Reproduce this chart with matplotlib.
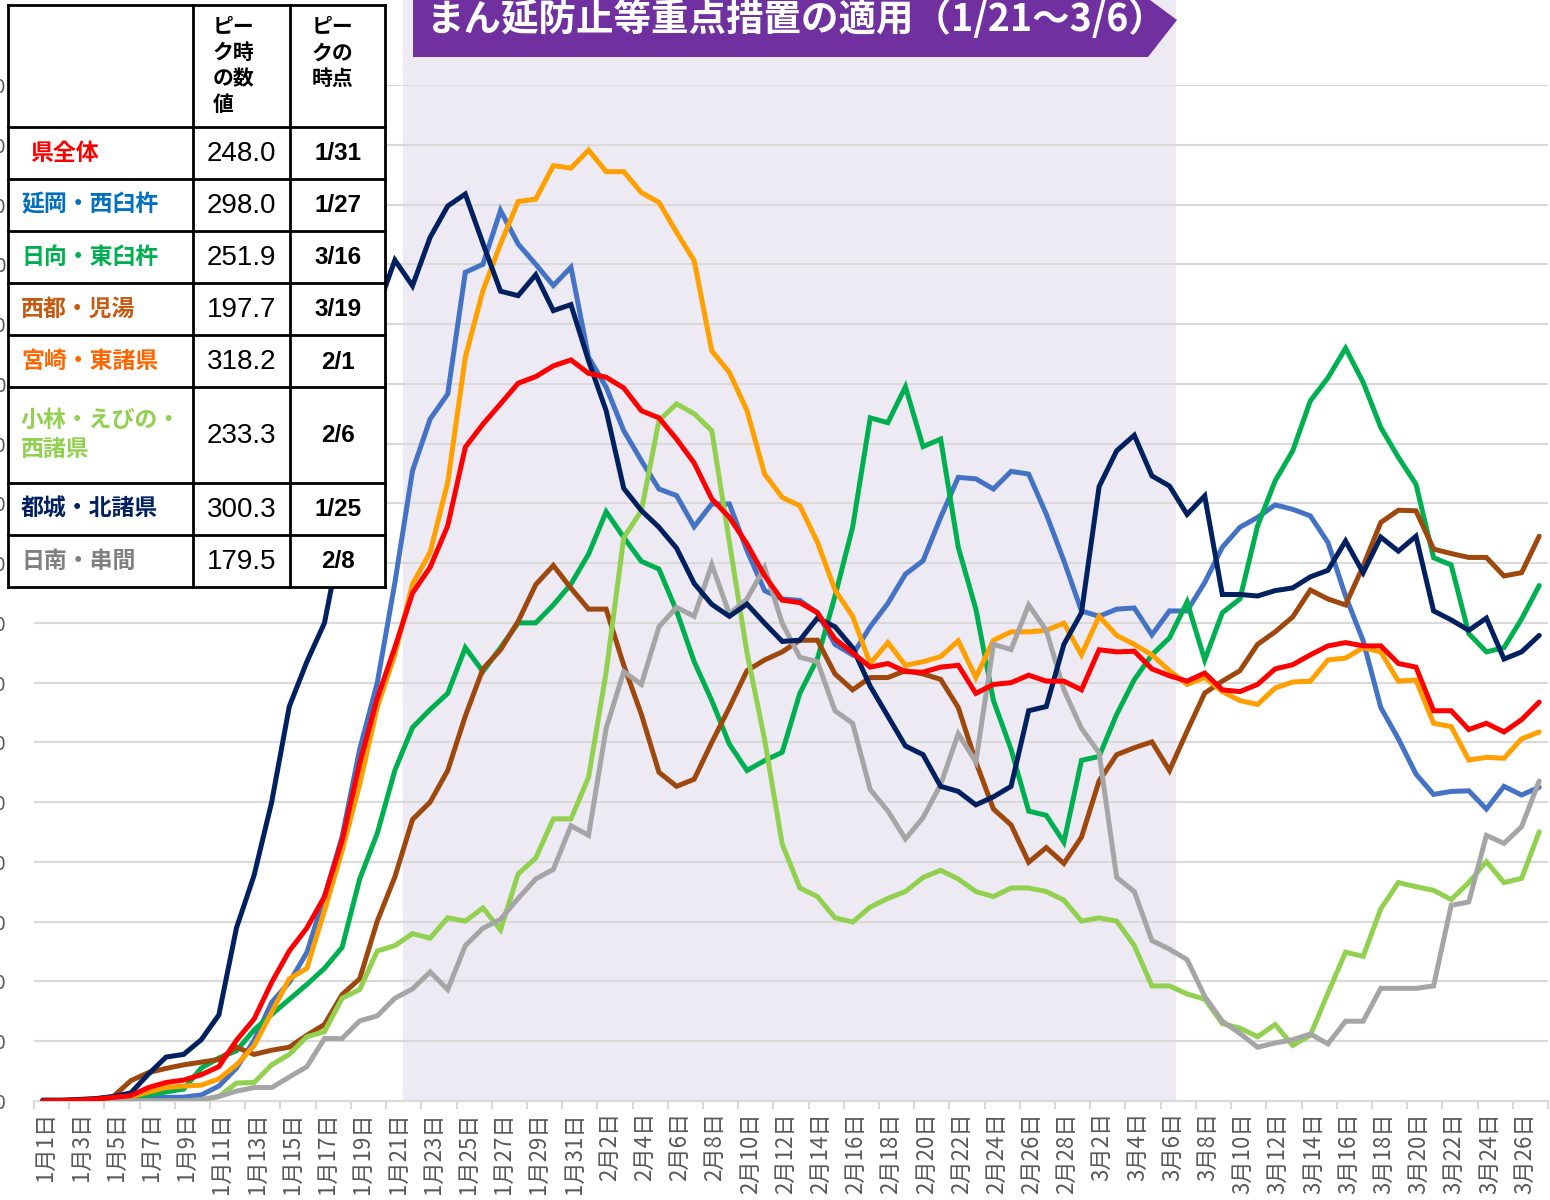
import matplotlib
matplotlib.use('Agg')
import matplotlib.pyplot as plt
from matplotlib.patches import Rectangle, Polygon
from matplotlib.lines import Line2D
from matplotlib.transforms import ScaledTranslation
import numpy as np
import pandas as pd

plt.rcParams['font.family'] = ['Noto Sans CJK JP', 'DejaVu Sans']

# ---------------- data ----------------
dates = pd.date_range('2022-01-01', '2022-03-27', freq='D')
date_labels = [f"{d.month}月{d.day}日" for d in dates]

ken_zentai = [0, 0.1, 0.3, 0.6, 1.2, 1.8, 4.5, 6.2, 7, 8.8,
              11.5, 20.3, 27.4, 39.7, 50.2, 57.9, 68.4, 87.2, 113, 134.8,
              151.8, 170, 178.6, 192.5, 218.8, 226.5, 233.3, 240.2, 242.4, 246,
              248.0, 243.5, 242.2, 238.6, 231, 228.6, 221.5, 213.5, 201.5, 195.3,
              186.4, 175.8, 167.6, 166.8, 163.4, 154.6, 150, 145.2, 146.4, 143.7,
              143.5, 145.2, 145.8, 136.4, 139.4, 140, 142.5, 140.5, 140.5, 137.6,
              151, 150.3, 150.5, 144.6, 142.3, 140.5, 143.2, 137.6, 137, 139.4,
              144.6, 146, 149.3, 152.3, 153.4, 152.3, 152.3, 146.4, 145.2, 130.6,
              130.6, 124.3, 126.4, 123.5, 127.6, 133.5]

nobeoka = [0, 0, 0.2, 0.4, 0.5, 0.8, 1, 1.2, 1.3, 2,
           5, 11, 20.3, 33, 39.7, 49.7, 68.4, 88.4, 117.7, 140,
           173.5, 210.9, 228.2, 236.6, 277.3, 280, 298.0, 286.8, 280, 272.9,
           279, 248.9, 238.9, 224.3, 214.3, 204.8, 202.6, 192.2, 199.8, 199.8,
           184.2, 170.8, 168, 167.5, 163.4, 152.8, 149.3, 158.7, 166.5, 176.3,
           180.8, 195.3, 208.7, 208.2, 204.8, 210.7, 209.8, 196.4, 180.8, 164,
           162.2, 164.6, 165, 156, 164, 164, 173.5, 185.3, 192, 195.3,
           199.5, 198, 195.8, 186.9, 169, 154, 131.7, 121.2, 109.4, 102.6,
           103.6, 103.8, 97.7, 105.3, 102.4, 105]

hyuga = [0, 0, 0.3, 0.6, 1, 1.5, 2, 3, 4, 11,
         14.4, 16.8, 23.8, 29, 34, 39, 44.4, 51.4, 74.3, 89.6,
         110.7, 125, 131, 136.4, 151.7, 143.7, 151.7, 160, 160, 166,
         173, 183, 197.2, 188.6, 180.6, 178, 164, 147, 134, 119.4,
         110.6, 113.9, 116.7, 136.4, 148, 169, 192, 228.6, 227, 239,
         219, 221.5, 185.3, 164.6, 134, 117.7, 97, 95.6, 86.6, 114,
         115.3, 129.4, 141, 149.3, 155, 167, 147.6, 163.4, 168, 192.4,
         207.5, 217.6, 234.3, 242, 251.9, 240.5, 225.4, 215.4, 206.4, 181.8,
         179.4, 156.4, 150.3, 151.7, 161.3, 172.5]

saito = [0, 0.1, 0.3, 0.6, 1.5, 6.8, 9.5, 10.9, 12.1, 13,
         13.9, 18, 15.6, 17, 18, 22, 25.6, 35.6, 40.9, 60.2,
         75, 94.2, 100, 110.6, 128.8, 144.6, 151, 160.5, 172.8, 179.2,
         171.6, 164.6, 164.6, 145.8, 129.4, 110, 105.3, 107.7, 120, 131.7,
         144, 147.6, 150.3, 154.2, 154.2, 142.9, 137.6, 141.7, 141.7, 144,
         142.9, 141.1, 131.7, 113.5, 97.7, 92.4, 79.9, 84.8, 79.5, 88.3,
         107.1, 115.9, 118.2, 120.2, 110.6, 123.8, 136.5, 140.5, 144, 152.8,
         157, 162, 171, 168, 166, 179, 193.6, 197.7, 197.5, 184.7,
         183.2, 181.9, 181.9, 175.7, 176.8, 189]

miyazaki = [0, 0.1, 0.3, 0.8, 1, 1.5, 3, 4.5, 5, 5.3,
            7.4, 12.1, 18.5, 29.7, 40.9, 44.4, 63.7, 83.7, 106, 131.8,
            149.4, 173, 183.6, 207, 248.9, 271.2, 286.8, 301, 301.8, 313,
            312.2, 318.2, 311, 311, 304, 300.7, 290.7, 281.2, 251, 243.8,
            231, 209.8, 202, 199.2, 187, 171, 162.2, 146.4, 153.4, 145.8,
            147, 148.7, 154, 141.7, 154.2, 157, 157, 157.5, 159.9, 149.3,
            162.2, 155.8, 152.8, 149.3, 144, 139.4, 141.7, 137, 134, 132.7,
            138.2, 140.2, 140.5, 147.6, 148.2, 151.7, 150.3, 140.5, 140.9, 126.4,
            125.3, 114.1, 115, 114.7, 121.2, 123.5]

kobayashi = [0, 0, 0, 0, 0, 0, 0, 0, 0, 0.3,
             1.5, 6, 6.2, 12.1, 15.6, 21.5, 23.2, 34.4, 37.3, 50.2,
             52, 56, 54.5, 61.3, 60.2, 64.6, 57.3, 76, 81.3, 94.4,
             94.4, 108.3, 143.5, 188.6, 197.5, 227.7, 233.3, 230, 224.3, 187,
             150, 121, 86, 71.3, 68.4, 61.3, 59.9, 64.9, 67.8, 70.1,
             74.8, 77.2, 74.3, 70.1, 68.4, 71.3, 71.3, 70.1, 67.2, 60.2,
             61.3, 60.2, 52, 38.5, 38.5, 35.8, 34.1, 25.9, 24.4, 21.5,
             25.6, 18.6, 22, 36.1, 49.8, 48.4, 64.3, 73.1, 71.7, 70.5,
             67.4, 73.1, 80.1, 73.1, 74.5, 90.1]

miyakonojo = [0.3, 0.3, 0.5, 0.8, 1.5, 2.7, 9, 14.7, 15.6, 20.5,
              28.8, 57.9, 75.5, 100, 132, 147, 160, 190, 232, 265,
              281.4, 272.8, 289, 299.5, 303.5, 287, 271, 269.5, 276.5, 264.5,
              266.5, 247.7, 231, 205, 197.6, 192, 185, 173.2, 166.2, 162.2,
              166.3, 159.9, 153.8, 154.2, 161.6, 158.7, 151.7, 138.8, 128.8, 118.8,
              115.9, 105.3, 103.6, 99.1, 101.8, 105.3, 130.6, 132, 152.8, 163.4,
              205.6, 217.6, 222.8, 209.2, 205.8, 196.3, 202.5, 169.5, 169.5, 169,
              170.8, 171.7, 175.4, 177.6, 187.4, 176.8, 188.7, 184, 189, 164,
              161, 157.5, 161.6, 147.9, 150.3, 155.8]

nichinan = [0, 0, 0, 0, 0, 0, 0, 0, 0, 0.5,
            1.5, 3.3, 4.5, 4.5, 8, 11.5, 20.9, 20.9, 26.8, 28.5,
            34.4, 37.5, 43.2, 37.3, 52, 57.8, 60.8, 67.8, 74.3, 77.5,
            92.1, 88.9, 124.7, 143.7, 139.4, 158.7, 165.2, 162.2, 179.5, 163,
            168, 178.5, 159.9, 148.5, 147, 130.6, 126.4, 104.2, 97.1, 87.7,
            94.8, 105.9, 122.9, 113.5, 152.8, 151.1, 166, 157.5, 137.6, 124.7,
            116.5, 74.8, 70.1, 53.7, 50.8, 47.3, 35, 26.7, 22.6, 18,
            19.4, 20.5, 22.4, 19.1, 26.7, 26.7, 37.7, 37.7, 37.7, 38.5,
            65.5, 66.6, 88.9, 86.2, 91.8, 107.1]

region_names = ["県全体", "延岡・西臼杵", "日向・東臼杵", "西都・児湯", "宮崎・東諸県",
                "小林・えびの・\n西諸県", "都城・北諸県", "日南・串間"]
peak_values = ["248.0", "298.0", "251.9", "197.7", "318.2", "233.3", "300.3", "179.5"]
peak_dates = ["1/31", "1/27", "3/16", "3/19", "2/1", "2/6", "1/25", "2/8"]

y_ticks = list(range(0, 341, 20))
period_start, period_end = 20.47, 64.39   # shaded period (1/21 - 3/6) on category axis
title_text = "まん延防止等重点措置の適用（1/21～3/6）"

# ---------------- styling ----------------
line_colors = {
    "nobeoka": "#4472C4", "hyuga": "#00B050", "saito": "#9E480E",
    "miyazaki": "#FFA000", "kobayashi": "#92D050", "miyakonojo": "#002060",
    "nichinan": "#A5A5A5", "ken": "#FF0000",
}
label_colors = ["#FF0000", "#0070C0", "#00B050", "#C55A11", "#FF6600",
                "#92D050", "#002060", "#808080"]

W, H = 1550, 1200
fig = plt.figure(figsize=(W / 100, H / 100), dpi=100)


def fx(px):
    return px / W


def fy(py):
    return 1 - py / H


ax = fig.add_axes([fx(34), fy(1101), fx(1548) - fx(34), fy(85) - fy(1101)])
x = np.arange(len(dates))
ax.set_xlim(-0.5, len(dates) - 0.5)
ax.set_ylim(0, 340)
ax.set_yticks(y_ticks)
ax.set_yticklabels([str(v) for v in y_ticks])
ax.yaxis.grid(True, color='#D9D9D9', lw=1.5)
ax.set_axisbelow(True)
ax.tick_params(axis='y', length=0, pad=20, labelsize=14, labelcolor='#595959')
for s in ['left', 'right', 'top']:
    ax.spines[s].set_visible(False)
ax.spines['bottom'].set_color('#D9D9D9')
ax.spines['bottom'].set_linewidth(1.5)

ax.set_xticks(x[::2])
ax.set_xticklabels(date_labels[::2], rotation=90, va='top', ha='center')
ax.tick_params(axis='x', which='major', length=0, pad=8, labelsize=16, labelcolor='#595959')
shift = ScaledTranslation(3 / 100, 0, fig.dpi_scale_trans)
for lab in ax.get_xticklabels():
    lab.set_transform(lab.get_transform() + shift)
ax.set_xticks(np.arange(-0.5, len(dates), 2), minor=True)
ax.tick_params(axis='x', which='minor', length=6, width=1.5, color='#D9D9D9')

ax.axvspan(period_start, period_end, ymin=0, ymax=1101 / 1016, color='#EEEAF4',
           lw=0, zorder=0.2, clip_on=False)

lw = 3.6
order = [(nobeoka, "nobeoka"), (hyuga, "hyuga"), (saito, "saito"), (miyazaki, "miyazaki"),
         (kobayashi, "kobayashi"), (nichinan, "nichinan"), (miyakonojo, "miyakonojo"),
         (ken_zentai, "ken")]
for vals, key in order:
    ax.plot(x, vals, color=line_colors[key], lw=lw, solid_joinstyle='miter',
            solid_capstyle='round', zorder=3)

# ---------------- banner ----------------
banner = Polygon([(fx(413), fy(0)), (fx(1150), fy(0)), (fx(1177), fy(20)),
                  (fx(1148), fy(57)), (fx(413), fy(57))], closed=True,
                 transform=fig.transFigure, facecolor='#7030A0', edgecolor='none', zorder=5)
fig.add_artist(banner)
fig.text(fx(427), fy(19), title_text, color='white', fontsize=27, weight='bold',
         va='center', ha='left', zorder=6)

# ---------------- table ----------------
tl, tr = 8, 385
col_x = [8, 193, 290, 385]
row_y = [5, 127, 179, 231, 283, 335, 387, 483, 535, 587]
fig.add_artist(Rectangle((fx(tl), fy(587)), fx(tr) - fx(tl), fy(5) - fy(587),
                         transform=fig.transFigure, facecolor='white', edgecolor='none', zorder=10))
for cx in col_x:
    fig.add_artist(Line2D([fx(cx), fx(cx)], [fy(5), fy(587)], transform=fig.transFigure,
                          color='black', lw=2, zorder=11, solid_capstyle='projecting'))
for ry in row_y:
    fig.add_artist(Line2D([fx(8), fx(385)], [fy(ry), fy(ry)], transform=fig.transFigure,
                          color='black', lw=2, zorder=11, solid_capstyle='projecting'))

hdr_kw = dict(fontsize=15, color='black', va='center', ha='left', zorder=12, weight='bold')
for i, t in enumerate(["ピー", "ク時", "の数", "値"]):
    fig.text(fx(213), fy(27 + 25.7 * i), t, **hdr_kw)
for i, t in enumerate(["ピー", "クの", "時点"]):
    fig.text(fx(312), fy(27 + 25.7 * i), t, **hdr_kw)

lab_kw = dict(fontsize=16.5, va='center', ha='left', zorder=12, weight='bold')
for k in range(len(region_names)):
    top, bot = row_y[k + 1], row_y[k + 2]
    cy = (top + bot) / 2
    name = region_names[k]
    if "\n" in name:
        l1, l2 = name.split("\n")
        fig.text(fx(21), fy(cy - 15), l1, color=label_colors[k], **lab_kw)
        fig.text(fx(21), fy(cy + 15), l2, color=label_colors[k], **lab_kw)
    else:
        lx = 30 if k == 0 else 21
        fig.text(fx(lx), fy(cy), name, color=label_colors[k], **lab_kw)
    fig.text(fx(241.5), fy(cy + 1), peak_values[k], fontsize=20, color='black',
             family='Liberation Sans', va='center', ha='center', zorder=12)
    fig.text(fx(338), fy(cy + 1), peak_dates[k], fontsize=17.5, color='black',
             family='Liberation Sans', weight='bold', va='center', ha='center', zorder=12)

fig.savefig('out.png', dpi=100)
